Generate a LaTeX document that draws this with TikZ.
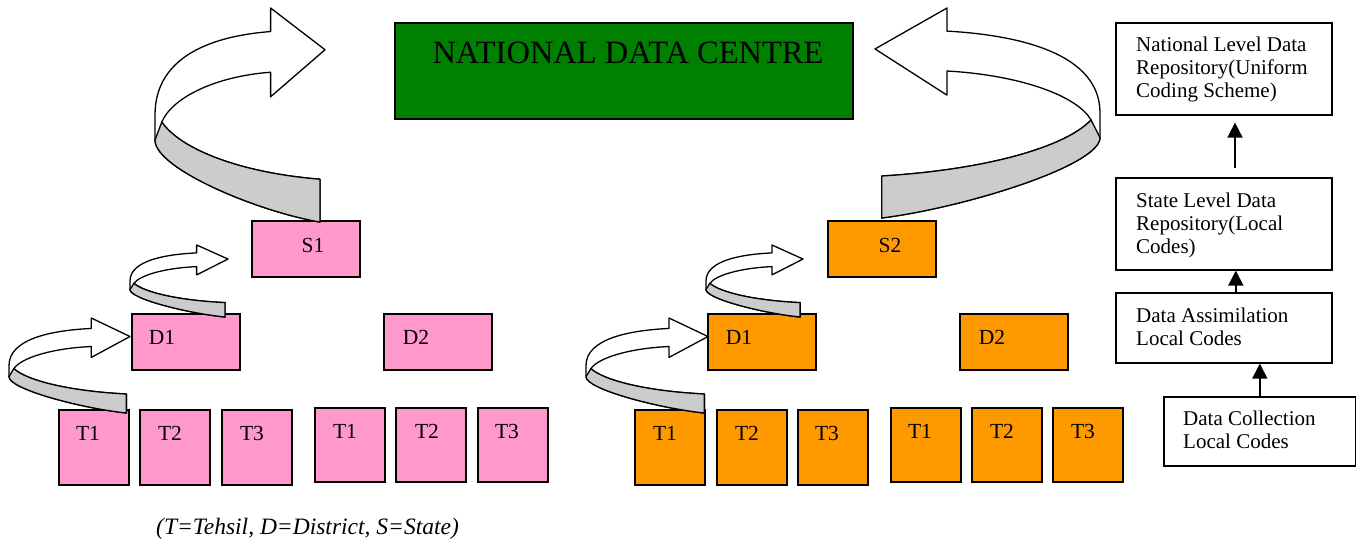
\documentclass[tikz,border=0pt]{standalone}
\usepackage{fontspec}
\setmainfont{Liberation Serif}
\usetikzlibrary{calc,arrows.meta}

\definecolor{ndcgreen}{RGB}{0,128,0}
\definecolor{statepink}{RGB}{255,153,204}
\definecolor{stateorange}{RGB}{255,153,0}
\definecolor{bandgray}{RGB}{204,204,204}

% Curved 3-D ribbon arrow in a unit frame (u right, v down);
% #1,#2 = left/top corner, #3 = horizontal scale (negative mirrors), #4 = vertical scale
\newcommand\ribbonarrow[4]{%
  \begin{scope}[shift={(#1,#2)}, xscale=#3, yscale=#4]
    \filldraw[ribbon, fill=white]
      (0.97,1) .. controls (0.6,0.95) and (0,0.75) .. (0,0.617)
      -- (0,0.5) .. controls (0,0.22) and (0.35,0.13) .. (0.68,0.11)
      -- (0.68,0) -- (1,0.195) -- (0.68,0.415) -- (0.68,0.30)
      .. controls (0.35,0.32) and (0.1,0.42) .. (0.04,0.533)
      .. controls (0.15,0.66) and (0.5,0.77) .. (0.97,0.80) -- cycle;
    \filldraw[ribbon, fill=bandgray]
      (0.04,0.533) .. controls (0.15,0.66) and (0.5,0.77) .. (0.97,0.80)
      -- (0.97,1) .. controls (0.6,0.95) and (0,0.75) .. (0,0.617) -- cycle;
  \end{scope}}

\tikzset{
  ribbon/.style={draw=black, line width=1.3pt, line join=round},
  box/.style={draw=black, line width=1.6pt, rectangle, inner sep=0pt, anchor=north west},
  pinkbox/.style={box, fill=statepink},
  orangebox/.style={box, fill=stateorange},
  sbox/.style={minimum width=108pt, minimum height=56pt},
  tbox/.style={minimum width=70pt, minimum height=75pt},
  lbl/.style={anchor=base, inner sep=0pt, font=\fontsize{21.5}{23}\selectfont},
  info/.style={box, fill=white, minimum width=216pt},
  % multi-line texts: the base anchor sits on the last line
  infotext/.style={anchor=base west, inner sep=0pt, align=left,
                   font=\fontsize{21}{23}\selectfont},
  up/.style={-{Triangle[length=15pt,width=15pt]}, line width=1.6pt}
}

\begin{document}
\begin{tikzpicture}[x=1pt,y=-1pt]
\useasboundingbox (0,0) rectangle (1356,544);

% national level
\node[box, fill=ndcgreen, minimum width=458pt, minimum height=96pt] (ndc) at (394,22) {};
\node[anchor=base, inner sep=0pt, font=\fontsize{32.5}{36}\selectfont] (ndct) at (628,63) {NATIONAL DATA CENTRE};

% state 1 (pink)
\node[pinkbox, sbox] (s1) at (251,220) {};
\node[lbl] (s1t) at (313,252) {S1};
\node[pinkbox, sbox] (d11) at (131,313) {};
\node[lbl] (d11t) at (162,344) {D1};
\node[pinkbox, sbox] (d12) at (383,313) {};
\node[lbl] (d12t) at (416,344) {D2};
\node[pinkbox, tbox] (t11) at (58,409) {};
\node[lbl] (t11t) at (88,440) {T1};
\node[pinkbox, tbox] (t12) at (139,409) {};
\node[lbl] (t12t) at (170,440) {T2};
\node[pinkbox, tbox] (t13) at (221,409) {};
\node[lbl] (t13t) at (252,440) {T3};
\node[pinkbox, tbox, minimum height=74pt] (t14) at (314,407) {};
\node[lbl] (t14t) at (345,438) {T1};
\node[pinkbox, tbox, minimum height=74pt] (t15) at (395,407) {};
\node[lbl] (t15t) at (427,438) {T2};
\node[pinkbox, tbox, minimum height=74pt] (t16) at (477,407) {};
\node[lbl] (t16t) at (507,438) {T3};

% state 2 (orange)
\node[orangebox, sbox] (s2) at (827,220) {};
\node[lbl] (s2t) at (890,252) {S2};
\node[orangebox, sbox] (d21) at (707,313) {};
\node[lbl] (d21t) at (739,344) {D1};
\node[orangebox, sbox] (d22) at (959,313) {};
\node[lbl] (d22t) at (992,344) {D2};
\node[orangebox, tbox] (t21) at (634,409) {};
\node[lbl] (t21t) at (665,440) {T1};
\node[orangebox, tbox] (t22) at (716,409) {};
\node[lbl] (t22t) at (747,440) {T2};
\node[orangebox, tbox] (t23) at (797,409) {};
\node[lbl] (t23t) at (827,440) {T3};
\node[orangebox, tbox, minimum height=74pt] (t24) at (890,407) {};
\node[lbl] (t24t) at (920,438) {T1};
\node[orangebox, tbox, minimum height=74pt] (t25) at (971,407) {};
\node[lbl] (t25t) at (1002,438) {T2};
\node[orangebox, tbox, minimum height=74pt] (t26) at (1052,407) {};
\node[lbl] (t26t) at (1083,438) {T3};

% ribbon arrows: tehsil -> district -> state -> national
\ribbonarrow{155}{8}{170}{214}
\ribbonarrow{130}{245}{98}{72}
\ribbonarrow{9}{318}{121}{95}
\ribbonarrow{1100}{8}{-225}{210}
\ribbonarrow{706}{245}{97}{72}
\ribbonarrow{586}{318}{122}{95}

% legend of levels
\node[info, minimum height=92pt] (n1) at (1115,22) {};
\node[infotext] (n1t) at (1136,97) {National Level Data\\Repository(Uniform\\Coding Scheme)};
\node[info, minimum height=92pt] (n2) at (1115,177) {};
\node[infotext] (n2t) at (1136,253) {State Level Data\\Repository(Local\\Codes)};
\node[info, minimum height=70pt] (n3) at (1115,292) {};
\node[infotext] (n3t) at (1136,345) {Data Assimilation\\Local Codes};
\node[info, minimum width=192pt, minimum height=69pt] (n4) at (1163,396) {};
\node[infotext] (n4t) at (1183,448) {Data Collection\\Local Codes};

\coordinate (a1s) at (1235,168);
\draw[up, shorten >=7pt] (a1s) -- (a1s |- n1.south);
\draw[up] ($(n3.north)+(12,0)$) -- ($(n2.south)+(12,0)$);
\draw[up] (n4.north) -- (n4.north |- n3.south);

\node[anchor=base west, inner sep=0pt, font=\itshape\fontsize{23.5}{26}\selectfont] (key) at (156,534) {(T=Tehsil, D=District, S=State)};
\end{tikzpicture}
\end{document}
